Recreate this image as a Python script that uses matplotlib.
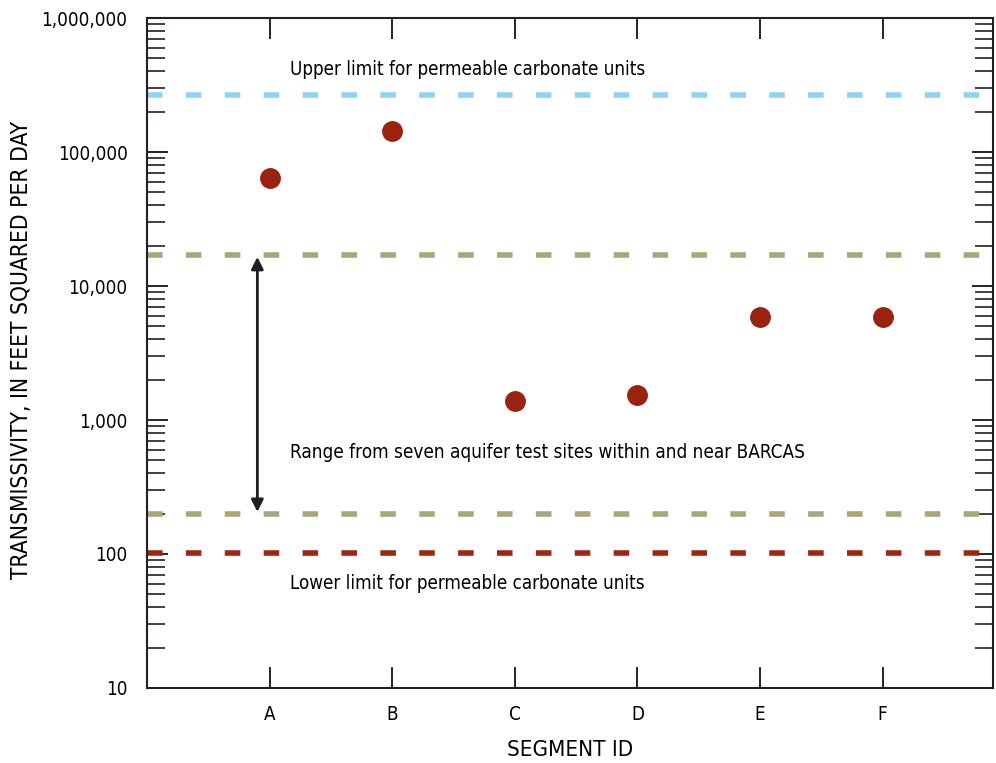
import matplotlib.pyplot as plt
from matplotlib.ticker import FuncFormatter, LogLocator, NullFormatter

plt.rcParams['font.family'] = ['DejaVu Sans']
plt.rcParams['font.stretch'] = 'condensed'

# data
segments = ['A', 'B', 'C', 'D', 'E', 'F']
transmissivity = [64000, 143000, 1390, 1540, 5870, 5870]

upper_limit = 266000
range_high = 17000
range_low = 200
lower_limit = 102

fig = plt.figure(figsize=(9.96, 7.63), dpi=100)
ax = fig.add_axes([0.1476, 0.0983, 0.8494, 0.8781])

xpos = list(range(1, len(segments) + 1))

# reference lines
ax.axhline(upper_limit, color='#8fd3f4', lw=4, ls=(0, (2.8, 4.2)))
ax.axhline(range_high, color='#a9a67a', lw=4, ls=(0, (2.8, 4.2)))
ax.axhline(range_low, color='#a9a67a', lw=4, ls=(0, (2.8, 4.2)))
ax.axhline(lower_limit, color='#9b2612', lw=4, ls=(0, (2.8, 4.2)))

ax.plot(xpos, transmissivity, 'o', color='#9a2210', markersize=14, zorder=5)

# range arrow
ax.annotate('', xy=(0.9, range_high * 0.97), xytext=(0.9, range_low * 1.03),
            arrowprops=dict(arrowstyle='<|-|>', color='#231f20', lw=2,
                            mutation_scale=18, shrinkA=0, shrinkB=0))

ax.text(1.165, 415000, 'Upper limit for permeable carbonate units', fontsize=13.5,
        va='center', ha='left', color='black')
ax.text(1.165, 577, 'Range from seven aquifer test sites within and near BARCAS',
        fontsize=13.6, va='center', ha='left', color='black')
ax.text(1.165, 60, 'Lower limit for permeable carbonate units', fontsize=13.5,
        va='center', ha='left', color='black')

ax.set_yscale('log')
ax.set_ylim(10, 1000000)
ax.set_xlim(0, 6.9)
ax.set_xticks(xpos)
ax.set_xticklabels(segments)
ax.yaxis.set_major_locator(LogLocator(base=10))
ax.yaxis.set_minor_locator(LogLocator(base=10, subs=range(2, 10)))
ax.yaxis.set_minor_formatter(NullFormatter())
ax.yaxis.set_major_formatter(FuncFormatter(lambda v, p: f'{int(round(v)):,}'))

ax.tick_params(axis='both', which='major', direction='in', length=15, width=1.2,
               labelsize=13.5, colors='black', top=True, right=True)
ax.tick_params(axis='y', which='minor', direction='in', length=13, width=1.2,
               right=True, colors='#231f20')
ax.tick_params(axis='y', which='major', pad=14)
ax.tick_params(axis='x', which='major', pad=12)

for s in ax.spines.values():
    s.set_linewidth(1.5)
    s.set_color('#231f20')

ax.set_xlabel('SEGMENT ID', fontsize=16, color='black', va='center')
ax.set_ylabel('TRANSMISSIVITY, IN FEET SQUARED PER DAY', fontsize=16.3,
              color='black', va='center')
ax.xaxis.set_label_coords(0.5, -0.093)
ax.yaxis.set_label_coords(-0.148, 0.505)

fig.savefig('out.png', dpi=100)
